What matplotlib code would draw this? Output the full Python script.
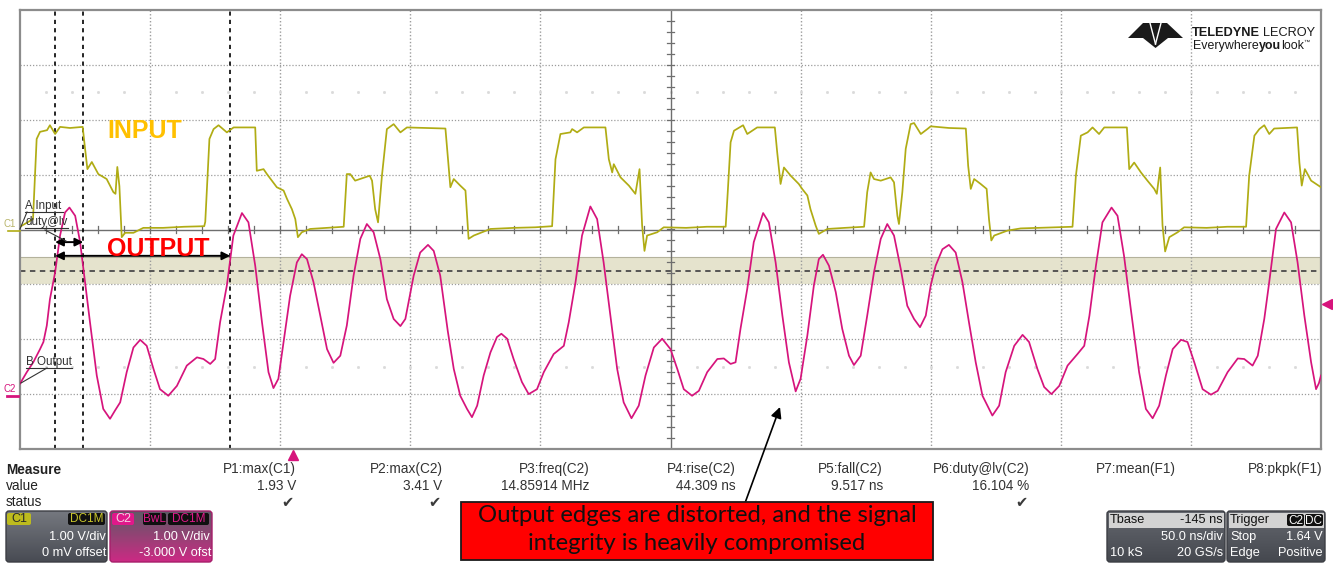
import numpy as np
import matplotlib
matplotlib.use('Agg')
import matplotlib.pyplot as plt
from matplotlib.patches import Rectangle, FancyBboxPatch, Polygon
from matplotlib.transforms import blended_transform_factory
import matplotlib.colors as mcolors

# ---------------- data ----------------
t_start, t_end = 0.0, 500.0          # ns on screen (50 ns/div)
v_divs = 4                            # +/- divisions
c2_offset = -3.0                      # V
trig_level = 1.64                     # V on C2
tbase_delay = -145.0                  # ns
cursor_times = [13.5, 24.3, 80.8]     # ns
duty_level = 2.25                     # V on C2 (display -0.75 div)
duty_band = (2.0, 2.5)                # V on C2

c1_t = [0, 5.0, 6.4, 7.7, 10.4, 11.5, 13.5, 15.4, 19.2, 24.1,
        24.8, 25.9, 27.6, 30.1, 33.3, 35.9, 36.7, 37.4, 38.2, 39.1, 40.4, 43.6, 47.4, 55, 63, 70.8,
        71.2, 72.8, 74.4, 76.3, 79.5, 82.1, 90.4,
        91.0, 93.6, 94.9, 98.7, 101.3, 102.6, 104.5, 105.8, 106.8, 108.3, 111.5, 118, 124.4,
        125.6, 126.9, 128.8, 134.4, 135.3, 136.5, 137.6, 139.1, 141.0, 143.6, 146.2, 148.7, 156, 163.5,
        165.4, 166.7, 169.2, 171.2, 172.4, 174.4, 180.8, 190, 198, 204.5,
        205.8, 207.7, 211.5, 212.2, 214.1, 216.7, 225.0,
        226.3, 227.6, 228.2, 230.8, 234.0, 236.5, 238.1, 239.1, 240.0, 241.0, 244.9, 247.4, 256, 264, 271.2,
        272.0, 273.1, 274.4, 277.9, 279.5, 281.4, 283.3, 290.1,
        291.0, 292.3, 293.6, 296.2, 299.3, 300.6, 302.6, 303.8, 305.8, 307.0, 310.3, 317, 324.4,
        325.6, 326.9, 328.2, 330.8, 334.6, 335.9, 337.2, 337.8, 339.1, 340.4, 342.3, 343.6, 346.2, 348.7, 350.0, 357, 363.5,
        364.4, 365.4, 366.7, 369.2, 371.5, 372.4, 373.3, 374.4, 379.5, 384.6, 392, 398, 404.5,
        405.8, 407.7, 410.3, 412.2, 414.7, 416.7, 425.4,
        426.3, 428.2, 430.8, 433.3, 435.9, 436.9, 438.2, 439.1, 440.1, 441.7, 444.9, 447.4, 456, 464, 471.2,
        472.4, 474.4, 476.3, 478.2, 480.1, 482.0, 490.8,
        491.7, 492.6, 493.8, 496.2, 500.0]
c1_v = [0.05, 0.19, 1.65, 1.78, 1.81, 1.90, 1.74, 1.87, 1.85, 1.87,
        1.56, 1.10, 1.23, 1.01, 0.92, 0.68, 0.65, 1.14, 0.79, -0.14, -0.06, -0.06, 0.03, 0.03, 0.05, 0.06,
        0.14, 1.65, 1.83, 1.90, 1.77, 1.86, 1.86,
        1.07, 1.10, 1.01, 0.77, 0.71, 0.56, 0.37, 0.19, -0.14, -0.05, 0.01, 0.03, 0.05,
        1.01, 1.01, 0.89, 0.98, 0.89, 0.37, 0.13, 0.98, 1.83, 1.92, 1.77, 1.86, 1.85, 1.84,
        0.77, 0.92, 0.80, 0.71, -0.17, -0.11, 0.01, 0.03, 0.04, 0.06,
        1.28, 1.74, 1.77, 1.83, 1.77, 1.86, 1.86,
        1.28, 1.04, 1.19, 0.95, 0.80, 0.65, 1.10, 0.07, -0.39, -0.11, -0.05, 0.04, 0.03, 0.05, 0.05,
        0.68, 1.59, 1.80, 1.90, 1.74, 1.80, 1.86, 1.86,
        1.41, 0.83, 1.13, 0.98, 0.83, 0.74, 0.62, 0.37, 0.07, -0.08, 0.01, 0.03, 0.05,
        0.68, 1.04, 0.92, 0.89, 0.95, 0.86, 0.25, 0.10, 0.68, 1.47, 1.92, 1.94, 1.74, 1.83, 1.88, 1.85, 1.84,
        1.16, 0.74, 0.92, 0.83, 0.74, 0.19, -0.20, -0.11, -0.02, 0.02, 0.03, 0.04, 0.05,
        0.98, 1.71, 1.77, 1.86, 1.74, 1.86, 1.86,
        1.10, 1.22, 1.04, 0.89, 0.74, 0.65, 1.13, 0.07, -0.40, -0.14, -0.05, 0.04, 0.03, 0.05, 0.05,
        0.98, 1.71, 1.83, 1.90, 1.74, 1.84, 1.86,
        1.22, 0.80, 1.10, 0.89, 0.77]

c2_t = [0, 2.6, 5.1, 7.7, 9.0, 10.3, 11.5, 13.5, 15.4, 17.3,
        19.0, 21.2, 23.1, 25.0, 26.9, 29.5, 32.0, 34.6, 36.5, 38.5,
        41.0, 43.6, 46.2, 48.7, 51.3, 53.8, 57.0, 60.3, 64.1, 68.0,
        70.5, 73.1, 75.0, 76.9, 79.5, 82.0, 85.3, 87.8, 90.4, 93.0,
        95.5, 97.4, 99.3, 101.3, 103.8, 106.4, 108.3, 110.3, 112.8, 115.4,
        118.0, 120.5, 123.1, 125.6, 128.2, 130.8, 133.3, 135.9, 138.5, 141.0,
        143.6, 146.2, 148.1, 151.3, 153.8, 156.8, 159.0, 161.5, 164.4, 166.7,
        169.2, 171.8, 173.7, 175.7, 178.2, 180.8, 183.3, 185.0, 187.2, 189.7,
        192.9, 195.5, 198.7, 201.3, 205.1, 209.0, 210.9, 213.5, 216.0, 219.2,
        221.8, 224.3, 226.9, 229.5, 232.0, 235.0, 237.8, 240.4, 243.6, 246.8,
        250.0, 252.6, 255.1, 258.3, 260.9, 264.1, 268.0, 270.5, 273.1, 275.0,
        276.9, 279.5, 282.0, 285.6, 287.8, 290.4, 293.0, 295.5, 298.1, 300.0,
        302.6, 305.1, 307.0, 308.6, 310.9, 313.5, 316.0, 318.6, 320.5, 323.1,
        325.6, 328.2, 330.8, 333.3, 335.9, 338.5, 341.0, 343.6, 345.9, 348.1,
        350.0, 351.9, 354.5, 357.0, 359.6, 362.2, 364.7, 367.3, 369.9, 373.7,
        376.3, 378.8, 382.1, 385.3, 387.8, 391.0, 393.6, 396.4, 399.4, 402.6,
        406.4, 409.0, 411.0, 413.5, 416.0, 419.5, 421.8, 424.3, 426.9, 430.1,
        432.7, 435.3, 437.8, 440.4, 443.0, 446.2, 448.7, 451.3, 454.5, 457.7,
        460.3, 464.1, 468.0, 470.5, 473.7, 475.7, 478.2, 480.1, 482.7, 485.9,
        488.5, 491.0, 493.6, 496.2, 498.1, 499.2, 500.0]
c2_v = [0.19, 0.40, 0.58, 0.82, 0.95, 1.25, 1.73, 2.22, 2.89, 3.31,
        3.40, 3.25, 2.77, 2.04, 1.31, 0.34, -0.27, -0.45, -0.30, -0.15,
        0.40, 0.85, 0.99, 0.88, 0.46, 0.09, -0.03, 0.15, 0.52, 0.67,
        0.64, 0.55, 0.64, 1.31, 1.98, 2.89, 3.30, 3.13, 2.34, 1.31,
        0.40, 0.11, 0.28, 0.95, 1.79, 2.40, 2.55, 2.46, 2.04, 1.43,
        0.82, 0.57, 0.70, 1.25, 2.16, 2.83, 3.10, 2.95, 2.46, 1.73,
        1.37, 1.24, 1.37, 2.16, 2.58, 2.72, 2.61, 2.16, 1.15, 0.46,
        -0.03, -0.27, -0.42, -0.21, 0.34, 0.76, 1.04, 1.10, 1.01, 0.64,
        0.22, 0.00, 0.09, 0.40, 0.73, 0.88, 1.31, 2.04, 2.89, 3.42,
        3.19, 2.40, 1.43, 0.46, -0.15, -0.44, -0.21, 0.34, 0.85, 1.01,
        0.82, 0.46, 0.09, -0.03, 0.06, 0.40, 0.64, 0.65, 0.55, 0.58,
        1.19, 1.92, 2.77, 3.30, 3.13, 2.40, 1.43, 0.58, 0.05, 0.28,
        1.07, 1.98, 2.46, 2.54, 2.34, 1.86, 1.19, 0.70, 0.53, 0.70,
        1.43, 2.22, 2.83, 3.10, 2.89, 2.28, 1.61, 1.37, 1.22, 1.43,
        1.98, 2.34, 2.64, 2.72, 2.58, 2.04, 1.31, 0.58, -0.03, -0.39,
        -0.21, 0.40, 0.88, 1.08, 0.95, 0.46, 0.13, 0.00, 0.15, 0.52,
        0.73, 0.88, 1.43, 2.34, 3.13, 3.40, 3.25, 2.52, 1.55, 0.40,
        -0.27, -0.44, -0.21, 0.34, 0.82, 0.99, 0.95, 0.58, 0.09, -0.01,
        0.06, 0.40, 0.65, 0.64, 0.52, 0.70, 1.37, 2.04, 3.01, 3.31,
        3.13, 2.40, 1.43, 0.58, 0.09, 0.20, 0.34]

meas_names = ["P1:max(C1)", "P2:max(C2)", "P3:freq(C2)", "P4:rise(C2)",
              "P5:fall(C2)", "P6:duty@lv(C2)", "P7:mean(F1)", "P8:pkpk(F1)"]
meas_values = ["1.93 V", "3.41 V", "14.85914 MHz", "44.309 ns",
               "9.517 ns", "16.104 %", "", ""]
meas_status = ["\u2714", "\u2714", "", "", "", "\u2714", "", ""]

# ---------------- colours ----------------
C1_COL = '#B0AC14'
C2_COL = '#D6147C'
GRID_COL = '#9C9C9C'
UI_FONT = 'Liberation Sans'

W, H = 1333, 564
fig = plt.figure(figsize=(W / 100, H / 100), dpi=100)
fig.patch.set_facecolor('white')

# main scope grid (pixel box 20..1321 x 10..449)
PL, PT, PR, PB = 20, 10, 1321, 449
ax = fig.add_axes([PL / W, 1 - PB / H, (PR - PL) / W, (PB - PT) / H])
ax.set_xlim(t_start, t_end)
ax.set_ylim(-v_divs, v_divs)
ax.set_xticks([]); ax.set_yticks([])
for s in ax.spines.values():
    s.set_color('#8C8C8C'); s.set_linewidth(1.6)

tdiv = (t_end - t_start) / 10
t_center = (t_start + t_end) / 2
for k in range(1, 10):
    if k != 5:
        ax.axvline(t_start + k * tdiv, color=GRID_COL, lw=1.0, ls=(0, (1, 1.5)), zorder=1)
for k in range(-3, 4):
    if k != 0:
        ax.axhline(k, color=GRID_COL, lw=0.9, ls=(0, (1, 1.5)), zorder=1)

# trigger / duty level band
c2_disp = lambda v: np.asarray(v) + c2_offset
ax.axhspan(c2_disp(duty_band[0]), c2_disp(duty_band[1]), color='#E5E3CD', zorder=0.5, lw=0)
ax.axhline(c2_disp(duty_band[1]), color='#B4B29C', lw=0.8, zorder=0.6)
ax.axhline(c2_disp(duty_level), color='#4A4A4A', lw=1.3, ls=(0, (3, 2.5)), zorder=1.2)

# faint sub-division dots
sub_t = np.arange(t_start + tdiv / 5, t_end, tdiv / 5)
for yy in (2.5, -2.5):
    ax.plot(sub_t, np.full_like(sub_t, yy), ls='none', marker='s', ms=1.0,
            color='#DADADA', zorder=1)

# center cross with ticks
ax.axhline(0, color='#6E6E6E', lw=1.0, zorder=1.5)
ax.axvline(t_center, color='#6E6E6E', lw=1.0, zorder=1.5)
for tt in sub_t:
    ax.plot([tt, tt], [-0.055, 0.055], color='#6E6E6E', lw=0.9, zorder=1.5)
for yy in np.arange(-v_divs + 0.2, v_divs, 0.2):
    ax.plot([t_center - 1.2, t_center + 1.2], [yy, yy], color='#6E6E6E', lw=0.9, zorder=1.5)

# cursors
for ct in cursor_times:
    ax.axvline(ct, color='black', lw=1.2, ls=(0, (2.5, 2.5)), zorder=2)

# traces
ax.plot(c1_t, c1_v, color=C1_COL, lw=1.25, zorder=3)
ax.plot(c2_t, c2_disp(c2_v), color=C2_COL, lw=1.25, zorder=3.1)

# duty arrows
arr_kw = dict(arrowstyle='<|-|>', color='black', lw=1.4, mutation_scale=12,
              shrinkA=0, shrinkB=0)
ax.annotate('', xy=(cursor_times[1], -0.23), xytext=(cursor_times[0], -0.23),
            arrowprops=arr_kw, zorder=4)
ax.annotate('', xy=(cursor_times[2], -0.48), xytext=(cursor_times[0], -0.48),
            arrowprops=arr_kw, zorder=4)

# trigger markers
bt = blended_transform_factory(ax.transAxes, ax.transData)
ax.plot([1.0045], [c2_disp(trig_level)], transform=bt, marker='<', ms=7,
        color=C2_COL, clip_on=False, zorder=5)
bt2 = blended_transform_factory(ax.transData, ax.transAxes)
ax.plot([t_center + tbase_delay], [-0.013], transform=bt2, marker='^', ms=7,
        color=C2_COL, clip_on=False, zorder=5)

# ---------------- overlay in pixel coordinates ----------------
ov = fig.add_axes([0, 0, 1, 1], zorder=10)
ov.patch.set_alpha(0)
ov.axis('off')


def txt(x, y, s, size=9.8, color='#222222', ha='left', va='center', weight='normal',
        family=UI_FONT, **kw):
    return ov.text(x, y, s, fontsize=size, color=color, ha=ha, va=va,
                   fontweight=weight, family=family, **kw)


# channel labels at left
txt(3, 224, 'C1', size=7, color='#B8B46A')
ov.plot([8, 20], [230.5, 230.5], color=C1_COL, lw=1.2)
txt(4, 389, 'C2', size=7, color=C2_COL)
ov.plot([7, 18], [396, 396], color=C2_COL, lw=2)

# small param labels
txt(25, 206, 'A Input', size=8.4, color='#333333')
ov.plot([25, 63], [212, 212], color='#333333', lw=0.8)
txt(25, 222, 'duty@lv', size=8.4, color='#333333')
ov.plot([25, 68], [228, 228], color='#333333', lw=0.8)
ov.plot([20, 27], [229, 212], color='#333333', lw=0.8)
ov.plot([45, 66], [230, 241], color='#333333', lw=0.8)
txt(26, 362, 'B Output', size=8.4, color='#333333')
ov.plot([26, 72], [368, 368], color='#333333', lw=0.8)
ov.plot([21, 47], [383, 368], color='#333333', lw=0.8)

# INPUT / OUTPUT
txt(107, 131, 'INPUT', size=18, color='#FFC000', weight='bold')
txt(107, 249, 'OUTPUT', size=18, color='#FF0000', weight='bold')

# logo
ov.add_patch(Polygon([(1128, 38), (1143, 23), (1167, 23), (1183, 38), (1168, 38),
                      (1155.5, 48), (1143, 38)], closed=True, fc='#1A1A1A', ec='none'))
ov.plot([1150, 1155.5], [23, 44], color='white', lw=1.0)
ov.plot([1161, 1155.5], [23, 44], color='white', lw=1.0)
r = fig.canvas.get_renderer()


def chain(x, y, parts, size, color='#222222'):
    for s, w in parts:
        t = txt(x, y, s, size=size, weight=w, color=color)
        x += t.get_window_extent(renderer=r).width
    return x


xe = chain(1192, 33, [('TELEDYNE', 'bold')], 9.2, color='#1A1A1A')
chain(xe + 3, 33, [('LECROY', 'normal')], 9.2, color='#1A1A1A')
xe = chain(1193, 46, [('Everywhere', 'normal'), ('you', 'bold'), ('look', 'normal')], 8.9,
           color='#1A1A1A')
txt(xe, 42, '\u2122', size=4.5, color='#1A1A1A')

# measurement table
txt(6, 470, 'Measure', weight='bold')
txt(6, 486, 'value')
txt(6, 502, 'status')
col_right = [296 + 146.7 * i for i in range(8)]
for xr, nm, val, st in zip(col_right, meas_names, meas_values, meas_status):
    txt(xr, 469, nm, ha='right', color='#333333')
    if val:
        txt(xr, 486, val, ha='right', color='#333333')
    if st:
        txt(xr - 2, 502, st, ha='right', size=10.5, color='#3A3A3A', family='DejaVu Sans')


def grad_box(x0, y0, w, h, ctop, cbot, edge, rad=3):
    patch = FancyBboxPatch((x0, y0), w, h, boxstyle=f'round,pad=0,rounding_size={rad}',
                           fc='none', ec=edge, lw=1.0, zorder=3)
    ov.add_patch(patch)
    a = np.array(mcolors.to_rgb(ctop)); b = np.array(mcolors.to_rgb(cbot))
    f = np.linspace(0, 1, 64)[:, None, None]
    img = a[None, None, :] * (1 - f) + b[None, None, :] * f
    im = ov.imshow(img, extent=(x0, x0 + w, y0 + h, y0), aspect='auto', zorder=2,
                   interpolation='bilinear')
    im.set_clip_path(patch)


def tag(x0, y0, w, h, fc, s, tc, size=8.5):
    ov.add_patch(FancyBboxPatch((x0, y0), w, h, boxstyle='round,pad=0,rounding_size=2',
                                fc=fc, ec='none', zorder=4))
    txt(x0 + w / 2, y0 + h / 2 + 0.5, s, size=size, color=tc, ha='center', zorder=5)


# C1 box
grad_box(6, 511, 101, 51, '#75787F', '#484B53', '#3C3E44')
tag(7, 513, 24, 12, '#BDBB1E', 'C1', '#2A2A2A', size=9)
tag(68, 513, 37, 12, '#101010', 'DC1M', '#C9C62A', size=8.5)
txt(106, 537, '1.00 V/div', ha='right', color='white', size=9.2, zorder=5)
txt(106, 553, '0 mV offset', ha='right', color='white', size=9.2, zorder=5)

# C2 box
grad_box(110, 511, 102, 51, '#5E5A66', '#CC2A84', '#A61E6A')
tag(112, 513, 22, 12, '#E0188A', 'C2', '#F4D2E4', size=9)
tag(143, 513, 23, 12, '#101010', 'BwL', '#E0188A', size=8.5)
tag(168, 513, 41, 12, '#101010', 'DC1M', '#E0188A', size=8.5)
txt(210, 537, '1.00 V/div', ha='right', color='white', size=9.2, zorder=5)
txt(211, 553, '-3.000 V ofst', ha='right', color='white', size=9.2, zorder=5)

# Tbase box
grad_box(1107, 511, 118, 51, '#65686F', '#45484F', '#3C3E44')
ov.add_patch(Rectangle((1108.5, 512.5), 115, 15, fc='#D3D3D3', ec='none', zorder=4))
txt(1110, 520, 'Tbase', color='#111111', size=9.2, zorder=5)
txt(1223, 520, f'{tbase_delay:.0f} ns', ha='right', color='#111111', size=9.2, zorder=5)
txt(1223, 537, '50.0 ns/div', ha='right', color='white', size=9.2, zorder=5)
txt(1110, 553, '10 kS', color='white', size=9.2, zorder=5)
txt(1223, 553, '20 GS/s', ha='right', color='white', size=9.2, zorder=5)

# Trigger box
grad_box(1227, 511, 98, 51, '#65686F', '#45484F', '#3C3E44')
ov.add_patch(Rectangle((1228.5, 512.5), 95, 15, fc='#D3D3D3', ec='none', zorder=4))
txt(1230, 520, 'Trigger', color='#111111', size=9.2, zorder=5)
tag(1287, 514, 17, 12, '#101010', 'C2', 'white', size=8.5)
tag(1305, 514, 18, 12, '#101010', 'DC', 'white', size=8.5)
txt(1230, 537, 'Stop', color='white', size=9.2, zorder=5)
txt(1323, 537, f'{trig_level:.2f} V', ha='right', color='white', size=9.2, zorder=5)
txt(1230, 553, 'Edge', color='white', size=9.2, zorder=5)
txt(1323, 553, 'Positive', ha='right', color='white', size=9.2, zorder=5)

# annotation arrow and red box
ov.annotate('', xy=(780, 407), xytext=(745, 503),
            arrowprops=dict(arrowstyle='-|>', color='black', lw=1.2, mutation_scale=16,
                            shrinkA=0, shrinkB=0), zorder=6)
ov.add_patch(Rectangle((461, 502), 472, 58, fc='#FF0000', ec='#1A1A1A', lw=1.3, zorder=7))
txt(697, 515, 'Output edges are distorted, and the signal', ha='center', size=17.2,
    color='#111111', family='Lato', zorder=8)
txt(697, 543, 'integrity is heavily compromised', ha='center', size=17.2,
    color='#111111', family='Lato', zorder=8)

ov.set_xlim(0, W)
ov.set_ylim(H, 0)
ov.set_aspect('auto')

fig.savefig('out.png', dpi=100)
